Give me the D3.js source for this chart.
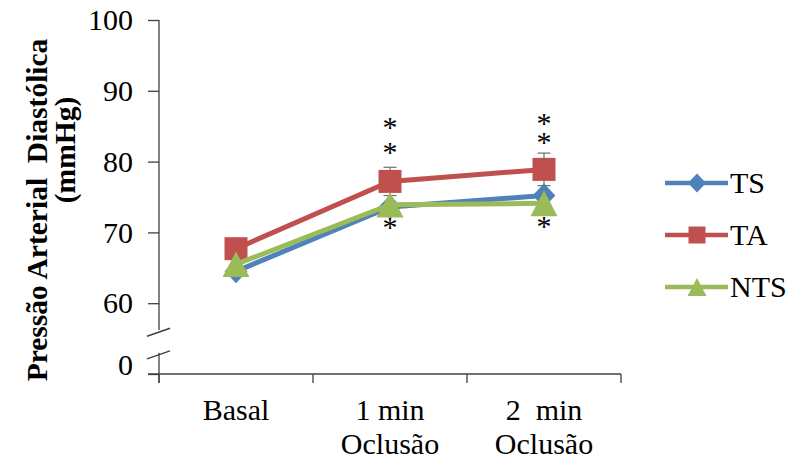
<!DOCTYPE html>
<html>
<head>
<meta charset="utf-8">
<script src="https://cdn.jsdelivr.net/npm/d3@7"></script>
<style>
  html, body { margin: 0; padding: 0; background: #fff; }
  svg { display: block; }
  text { font-family: "Liberation Serif", "Times New Roman", serif; fill: #000; }
</style>
</head>
<body>
<svg id="chart" width="789" height="459"></svg>
<script>
// Diastolic blood pressure per moment, per group
const categories = ["Basal", "1 min Oclusão", "2 min Oclusão"];
const categoryLines = [["Basal"], ["1 min", "Oclusão"], ["2  min", "Oclusão"]];
const seriesNames = ["TS", "TA", "NTS"];
const tsValues  = [64.5, 73.6, 75.2];
const taValues  = [67.7, 77.2, 78.9];
const ntsValues = [65.5, 73.9, 74.1];
const taErrors  = [1.0, 2.0, 2.3];
const yTicks = [50, 60, 70, 80, 90, 100];
const yTickLabels = ["0", "60", "70", "80", "90", "100"];
// significance marks: a stacked pair above and a single mark below each occlusion point
const sigCategory   = [1, 2];
const sigUpperLevel = [85.5, 86.0];
const sigStepPx     = [25, 19];
const sigLowerLevel = [71.3, 71.5];

const colors = { TS: "#4F81BD", TA: "#C0504D", NTS: "#9BBB59" };
const shapes = { TS: "diamond", TA: "square", NTS: "triangle" };
const seriesData = { TS: tsValues, TA: taValues, NTS: ntsValues };
const seriesErrors = { TA: taErrors };

const svg = d3.select("#chart");
const axisColor = "#404040";
const fontSize = "30px";

const x = d3.scaleBand().domain(categories).range([159, 621]).padding(0);
const y = d3.scaleLinear().domain([50, 100]).range([374, 20]);

// Y axis (ticks and labels, domain line drawn with a break)
const yAxis = d3.axisLeft(y)
  .tickValues(yTicks)
  .tickFormat((d, i) => yTickLabels[i])
  .tickSize(11)
  .tickPadding(15);
const gy = svg.append("g").attr("transform", "translate(159,0)").call(yAxis);
gy.select(".domain").remove();
gy.selectAll(".tick line").attr("stroke", axisColor).attr("stroke-width", 1.3);
gy.selectAll(".tick text")
  .style("font-size", fontSize)
  .attr("dy", d => d === 50 ? "0.02em" : "0.32em");

const breakTop = 56.2, breakBottom = 53.0;
svg.append("line")
  .attr("x1", 159).attr("x2", 159)
  .attr("y1", y(100)).attr("y2", y(breakTop))
  .attr("stroke", axisColor).attr("stroke-width", 1.3);
svg.append("line")
  .attr("x1", 159).attr("x2", 159)
  .attr("y1", y(breakBottom)).attr("y2", y(50) + 9)
  .attr("stroke", axisColor).attr("stroke-width", 1.3);
[breakTop - 0.3, breakBottom - 0.3].forEach(v => {
  const c = y(v);
  svg.append("line")
    .attr("x1", 147).attr("y1", c + 4)
    .attr("x2", 170).attr("y2", c - 4)
    .attr("stroke", axisColor).attr("stroke-width", 1.5);
});

// X axis with ticks on the category boundaries
svg.append("line")
  .attr("x1", 148).attr("x2", x.range()[1])
  .attr("y1", y(50)).attr("y2", y(50))
  .attr("stroke", axisColor).attr("stroke-width", 1.3);
d3.range(categories.length + 1).forEach(i => {
  const bx = x.range()[0] + i * x.step();
  svg.append("line")
    .attr("x1", bx).attr("x2", bx)
    .attr("y1", y(50)).attr("y2", y(50) + 9)
    .attr("stroke", axisColor).attr("stroke-width", 1.3);
});
categories.forEach((c, i) => {
  const t = svg.append("text")
    .attr("x", x(c) + x.bandwidth() / 2)
    .attr("y", 420)
    .attr("text-anchor", "middle")
    .style("font-size", fontSize)
    .style("white-space", "pre");
  categoryLines[i].forEach((line, j) => {
    t.append("tspan")
      .attr("x", x(c) + x.bandwidth() / 2)
      .attr("y", 420 + j * 34)
      .text(line);
  });
});

// Y axis title
svg.append("text")
  .attr("transform", "translate(47,210) rotate(-90)")
  .attr("text-anchor", "middle")
  .style("font-size", "29.5px").style("font-weight", "bold")
  .style("white-space", "pre")
  .text("Pressão Arterial  Diastólica");
svg.append("text")
  .attr("transform", "translate(75,150) rotate(-90)")
  .attr("text-anchor", "middle")
  .style("font-size", "29.5px").style("font-weight", "bold")
  .text("(mmHg)");

// Marker shapes
function drawMarker(g, shape, cx, cy, s, color) {
  if (shape === "square") {
    g.append("rect")
      .attr("x", cx - s / 2).attr("y", cy - s / 2)
      .attr("width", s).attr("height", s)
      .attr("fill", color);
  } else if (shape === "diamond") {
    const h = s / 2;
    g.append("path")
      .attr("d", `M${cx},${cy - h}L${cx + h * 0.95},${cy}L${cx},${cy + h}L${cx - h * 0.95},${cy}Z`)
      .attr("fill", color);
  } else {
    const w = s, hgt = s * 0.95;
    g.append("path")
      .attr("d", `M${cx},${cy - hgt / 2}L${cx + w / 2},${cy + hgt / 2}L${cx - w / 2},${cy + hgt / 2}Z`)
      .attr("fill", color);
  }
}
const markerSize = { TS: 24, TA: 23, NTS: 27 };
const legendMarkerSize = { TS: 19, TA: 17, NTS: 19 };

const cx = c => x(c) + x.bandwidth() / 2;
const line = d3.line().x((d, i) => cx(categories[i])).y(d => y(d));

// Series: error bars, line, markers
seriesNames.forEach(name => {
  const g = svg.append("g");
  const vals = seriesData[name];
  const errs = seriesErrors[name];
  if (errs) {
    vals.forEach((v, i) => {
      const px = cx(categories[i]);
      g.append("line").attr("x1", px).attr("x2", px)
        .attr("y1", y(v - errs[i])).attr("y2", y(v + errs[i]))
        .attr("stroke", "#707070").attr("stroke-width", 1.2);
      [v - errs[i], v + errs[i]].forEach(e => {
        g.append("line").attr("x1", px - 6.5).attr("x2", px + 6.5)
          .attr("y1", y(e)).attr("y2", y(e))
          .attr("stroke", "#707070").attr("stroke-width", 1.2);
      });
    });
  }
  g.append("path").datum(vals)
    .attr("d", line)
    .attr("fill", "none")
    .attr("stroke", colors[name])
    .attr("stroke-width", 5)
    .attr("stroke-linejoin", "round");
  vals.forEach((v, i) => drawMarker(g, shapes[name], cx(categories[i]), y(v), markerSize[name], colors[name]));
});

// Significance asterisks
sigCategory.forEach((ci, k) => {
  const px = cx(categories[ci]);
  const pair = svg.append("text")
    .attr("text-anchor", "middle")
    .style("font-size", fontSize);
  [0, 1].forEach(j => {
    pair.append("tspan")
      .attr("x", px)
      .attr("y", y(sigUpperLevel[k]) + 14 + j * sigStepPx[k])
      .text("*");
  });
  svg.append("text")
    .attr("x", px)
    .attr("y", y(sigLowerLevel[k]) + 14)
    .attr("text-anchor", "middle")
    .style("font-size", fontSize)
    .text("*");
});

// Legend
seriesNames.forEach((name, i) => {
  const ly = 183 + i * 52;
  const g = svg.append("g");
  g.append("line").attr("x1", 665).attr("x2", 728)
    .attr("y1", ly).attr("y2", ly)
    .attr("stroke", colors[name]).attr("stroke-width", 4.5);
  drawMarker(g, shapes[name], 697, ly, legendMarkerSize[name], colors[name]);
  g.append("text").attr("x", 730).attr("y", ly).attr("dy", "0.34em")
    .style("font-size", fontSize).text(name);
});
</script>
</body>
</html>
